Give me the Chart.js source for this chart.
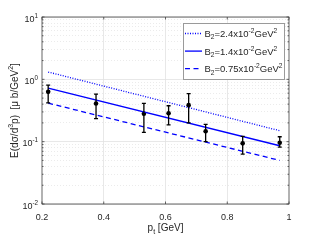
<!DOCTYPE html>
<html>
<head>
<meta charset="utf-8">
<script src="https://cdn.jsdelivr.net/npm/chart.js@4.4.0/dist/chart.umd.min.js"></script>
<style>
  html, body { margin: 0; padding: 0; background: #fff; }
  #wrap { width: 320px; height: 240px; }
</style>
</head>
<body>
<div id="wrap"><canvas id="chart" width="320" height="240"></canvas></div>
<script>
// measured points (p_t in GeV, invariant yield) with error bar ends
const ptValues = [0.22, 0.375, 0.53, 0.61, 0.675, 0.73, 0.85, 0.97];
const yieldValues = [0.63, 0.41, 0.28, 0.286, 0.385, 0.147, 0.094, 0.096];
const errLow = [0.42, 0.235, 0.141, 0.186, 0.20, 0.10, 0.063, 0.082];
const errHigh = [0.81, 0.58, 0.41, 0.377, 0.588, 0.19, 0.122, 0.12];

// model curves, straight on the log axis, so two ends each
const curvePt = [0.22, 0.97];
const curveB24 = [1.31, 0.15];
const curveB14 = [0.72, 0.086];
const curveB075 = [0.415, 0.05];

const xTicks = [0.2, 0.4, 0.6, 0.8, 1];
const yDecades = [0.01, 0.1, 1, 10];
const yTickLabels = [['10', '-2'], ['10', '-1'], ['10', '0'], ['10', '1']];

// legend texts as [text, kind] pieces: n = normal, b = subscript, p = superscript
const legendLabels = [
    [['B', 'n'], ['2', 'b'], ['=2.4x10', 'n'], ['-2', 'p'], ['GeV', 'n'], ['2', 'p']],
    [['B', 'n'], ['2', 'b'], ['=1.4x10', 'n'], ['-2', 'p'], ['GeV', 'n'], ['2', 'p']],
    [['B', 'n'], ['2', 'b'], ['=0.75x10', 'n'], ['-2', 'p'], ['GeV', 'n'], ['2', 'p']]
];
const legendDash = [[1, 1.5], [], [5, 3.5]];

const yTitle = [['E(d\u03C3/d', 'n'], ['3', 'p'], ['p)  [\u03BC b/GeV', 'n'], ['2', 'p'], [']', 'n']];
const xTitle = [['p', 'n'], ['t', 'b'], [' [GeV]', 'n']];

const BLUE = '#0000ff';
const TXT = '#262626';
const FONT = '"Liberation Sans", Arial, sans-serif';

// every minor tick value for the log axis grid
const yAllTicks = [];
yDecades.forEach((d, i) => {
    if (i === yDecades.length - 1) { yAllTicks.push(d); return; }
    for (let k = 1; k <= 9; k++) yAllTicks.push(+(d * k).toPrecision(3));
});
const isDecade = v => yDecades.some(d => Math.abs(d - v) < d * 1e-6);

function richWidth(ctx, parts, size) {
    let w = 0;
    parts.forEach(([t, k]) => {
        ctx.font = (k === 'n' ? size : size * 0.7) + 'px ' + FONT;
        w += ctx.measureText(t).width;
    });
    return w;
}

function drawRich(ctx, parts, x, y, size) {
    parts.forEach(([t, k]) => {
        const s = k === 'n' ? size : size * 0.7;
        const dy = k === 'p' ? -size * 0.42 : (k === 'b' ? size * 0.25 : 0);
        ctx.font = s + 'px ' + FONT;
        ctx.fillText(t, x, y + dy);
        x += ctx.measureText(t).width;
    });
}

const extras = {
    id: 'extras',
    afterDatasetsDraw(chart) {
        const ctx = chart.ctx;
        const xs = chart.scales.x, ys = chart.scales.y;
        ctx.save();
        ctx.strokeStyle = '#000';
        ctx.lineWidth = 1.3;
        ptValues.forEach((p, i) => {
            const x = xs.getPixelForValue(p);
            const y1 = ys.getPixelForValue(errLow[i]);
            const y2 = ys.getPixelForValue(errHigh[i]);
            ctx.beginPath();
            ctx.moveTo(x, y1); ctx.lineTo(x, y2);
            ctx.moveTo(x - 2, y1); ctx.lineTo(x + 2, y1);
            ctx.moveTo(x - 2, y2); ctx.lineTo(x + 2, y2);
            ctx.stroke();
        });
        ctx.restore();
    },
    afterDraw(chart) {
        const ctx = chart.ctx;
        const a = chart.chartArea;
        const xs = chart.scales.x, ys = chart.scales.y;
        ctx.save();

        // axes box with inner ticks
        ctx.strokeStyle = '#404040';
        ctx.lineWidth = 0.8;
        ctx.strokeRect(a.left, a.top, a.right - a.left, a.bottom - a.top);
        ctx.beginPath();
        xTicks.forEach(v => {
            const x = xs.getPixelForValue(v);
            ctx.moveTo(x, a.bottom); ctx.lineTo(x, a.bottom - 2.5);
            ctx.moveTo(x, a.top); ctx.lineTo(x, a.top + 2.5);
        });
        yAllTicks.forEach(v => {
            const y = ys.getPixelForValue(v);
            const l = isDecade(v) ? 2.5 : 1.5;
            ctx.moveTo(a.left, y); ctx.lineTo(a.left + l, y);
            ctx.moveTo(a.right, y); ctx.lineTo(a.right - l, y);
        });
        ctx.stroke();

        // y tick labels
        ctx.fillStyle = TXT;
        ctx.textBaseline = 'alphabetic';
        ctx.textAlign = 'left';
        yDecades.forEach((v, i) => {
            const y = ys.getPixelForValue(v);
            const parts = [[yTickLabels[i][0], 'n'], [yTickLabels[i][1], 'p']];
            const w = richWidth(ctx, parts, 9);
            drawRich(ctx, parts, a.left - 4 - w, y + 4.5, 9);
        });

        // axis titles
        const xw = richWidth(ctx, xTitle, 10);
        drawRich(ctx, xTitle, (a.left + a.right) / 2 - xw / 2, 231, 10);

        ctx.save();
        ctx.translate(14, (a.top + a.bottom) / 2);
        ctx.rotate(-Math.PI / 2);
        const yw = richWidth(ctx, yTitle, 10);
        drawRich(ctx, yTitle, -yw / 2, 3.5, 10);
        ctx.restore();

        // legend box
        const lx = a.right - 106, ly = a.top + 6, lw = 101, lh = 56;
        ctx.fillStyle = '#fff';
        ctx.fillRect(lx, ly, lw, lh);
        ctx.strokeStyle = '#9a9a9a';
        ctx.lineWidth = 1;
        ctx.strokeRect(lx + 0.5, ly + 0.5, lw, lh);
        legendLabels.forEach((parts, i) => {
            const y = ly + 10.5 + i * 17.6;
            ctx.strokeStyle = BLUE;
            ctx.lineWidth = 1.3;
            ctx.setLineDash(legendDash[i]);
            ctx.beginPath();
            ctx.moveTo(lx + 2, y); ctx.lineTo(lx + 19, y);
            ctx.stroke();
            ctx.setLineDash([]);
            ctx.fillStyle = TXT;
            drawRich(ctx, parts, lx + 21.5, y + 3.5, 9.5);
        });
        ctx.restore();
    }
};

const curveData = vals => curvePt.map((x, i) => ({ x: x, y: vals[i] }));

new Chart(document.getElementById('chart'), {
    type: 'scatter',
    data: {
        datasets: [
            { type: 'line', data: curveData(curveB24), borderColor: BLUE, borderWidth: 1.3, borderDash: [1, 1.5], pointRadius: 0, fill: false },
            { type: 'line', data: curveData(curveB14), borderColor: BLUE, borderWidth: 1.3, pointRadius: 0, fill: false },
            { type: 'line', data: curveData(curveB075), borderColor: BLUE, borderWidth: 1.3, borderDash: [5, 3.5], pointRadius: 0, fill: false },
            {
                data: ptValues.map((x, i) => ({ x: x, y: yieldValues[i] })),
                backgroundColor: '#000', borderColor: '#000', pointRadius: 2.3, borderWidth: 0
            }
        ]
    },
    options: {
        responsive: false,
        animation: false,
        events: [],
        layout: { padding: { top: 17, right: 31, left: 0, bottom: 0 } },
        plugins: { legend: { display: false }, tooltip: { enabled: false } },
        scales: {
            x: {
                type: 'linear', min: 0.2, max: 1,
                afterBuildTicks: s => { s.ticks = xTicks.map(v => ({ value: v })); },
                afterFit: s => { s.height = 36; },
                ticks: {
                    autoSkip: false, maxRotation: 0, padding: 8, color: TXT,
                    font: { family: FONT, size: 9 },
                    callback: v => String(+v.toFixed(1))
                },
                grid: {
                    drawTicks: false, lineWidth: 0.8,
                    color: c => (c.tick && (c.tick.value === 0.2 || c.tick.value === 1)) ? 'rgba(0,0,0,0)' : '#e2e2e2'
                },
                border: { display: false }
            },
            y: {
                type: 'logarithmic', min: 0.01, max: 10,
                afterBuildTicks: s => { s.ticks = yAllTicks.map(v => ({ value: v })); },
                afterFit: s => { s.width = 42; },
                ticks: { autoSkip: false, callback: () => '' },
                grid: {
                    drawTicks: false, lineWidth: 0.8,
                    color: c => (c.tick && isDecade(c.tick.value)) ? '#e2e2e2' : '#e6e6e6'
                },
                border: {
                    display: false,
                    dash: c => (c.tick && !isDecade(c.tick.value)) ? [1, 2] : []
                }
            }
        }
    },
    plugins: [extras]
});
</script>
</body>
</html>
